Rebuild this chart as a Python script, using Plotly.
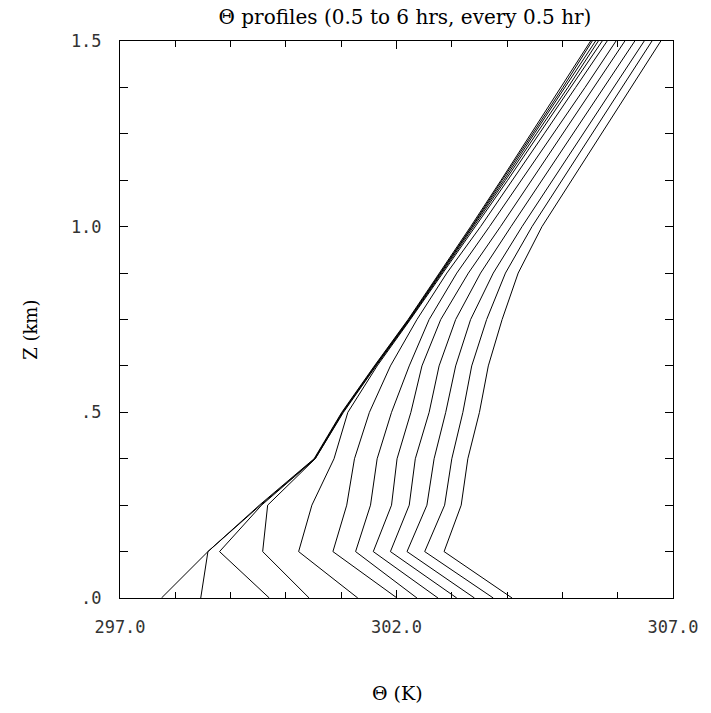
import plotly.graph_objects as go

# Heights (km)
z_km = [0.0, 0.125, 0.25, 0.375, 0.5, 0.625, 0.75, 0.875, 1.0, 1.125, 1.25, 1.375, 1.5]

# Theta profiles (K), every 0.5 hr from 0.5 to 6 hrs
theta_0p5h = [297.75, 298.59, 299.52, 300.51, 301.01, 301.60, 302.21, 302.78, 303.34, 303.89, 304.43, 304.97, 305.51]
theta_1p0h = [298.46, 298.59, 299.54, 300.52, 301.02, 301.61, 302.22, 302.79, 303.36, 303.91, 304.46, 305.01, 305.54]
theta_1p5h = [299.70, 298.80, 299.56, 300.53, 301.03, 301.62, 302.23, 302.80, 303.37, 303.94, 304.49, 305.04, 305.60]
theta_2p0h = [300.42, 299.58, 299.67, 300.53, 301.04, 301.63, 302.24, 302.82, 303.39, 303.97, 304.53, 305.10, 305.65]
theta_2p5h = [301.30, 300.23, 300.47, 300.87, 301.12, 301.65, 302.25, 302.84, 303.43, 304.01, 304.58, 305.15, 305.72]
theta_3p0h = [302.01, 300.85, 301.10, 301.24, 301.51, 301.89, 302.37, 302.91, 303.52, 304.10, 304.67, 305.24, 305.81]
theta_3p5h = [302.37, 301.26, 301.53, 301.65, 301.91, 302.23, 302.59, 303.09, 303.68, 304.26, 304.84, 305.41, 305.97]
theta_4p0h = [302.75, 301.58, 301.91, 302.01, 302.26, 302.46, 302.80, 303.30, 303.88, 304.44, 305.00, 305.56, 306.13]
theta_4p5h = [303.09, 301.89, 302.23, 302.34, 302.59, 302.77, 303.07, 303.52, 304.07, 304.63, 305.19, 305.75, 306.31]
theta_5p0h = [303.41, 302.19, 302.55, 302.68, 302.89, 303.07, 303.34, 303.75, 304.27, 304.82, 305.37, 305.93, 306.48]
theta_5p5h = [303.75, 302.51, 302.87, 303.00, 303.20, 303.36, 303.63, 303.97, 304.45, 304.99, 305.53, 306.07, 306.62]
theta_6p0h = [304.09, 302.86, 303.17, 303.29, 303.50, 303.66, 303.91, 304.20, 304.63, 305.17, 305.70, 306.24, 306.78]

hour_labels = ["0.5 hr", "1.0 hr", "1.5 hr", "2.0 hr", "2.5 hr", "3.0 hr",
               "3.5 hr", "4.0 hr", "4.5 hr", "5.0 hr", "5.5 hr", "6.0 hr"]
profiles = [theta_0p5h, theta_1p0h, theta_1p5h, theta_2p0h, theta_2p5h, theta_3p0h,
            theta_3p5h, theta_4p0h, theta_4p5h, theta_5p0h, theta_5p5h, theta_6p0h]

x_tickvals = [297.0, 302.0, 307.0]
x_ticktext = ["297.0", "302.0", "307.0"]
y_tickvals = [0.0, 0.5, 1.0, 1.5]
y_ticktext = [".0", ".5", "1.0", "1.5"]

fig = go.Figure()
for name, th in zip(hour_labels, profiles):
    fig.add_trace(go.Scatter(x=th, y=z_km, mode="lines", name=name,
                             line=dict(color="black", width=1), showlegend=False))

mono = dict(family="DejaVu Sans Mono", size=17, color="#333")
serif = "DejaVu Serif"

# plot box at x 120-678, y 41-598 of a 711x713 page (body margin removed below)
W, H = 711, 713
L, R, T, B = 120, 33, 41, 115
PW, PH = W - L - R, H - T - B

fig.update_layout(
    width=W, height=H,
    margin=dict(l=L, r=R, t=T, b=B),
    paper_bgcolor="white", plot_bgcolor="white",
    title=dict(text="Θ profiles (0.5 to 6 hrs, every 0.5 hr)",
               x=405 / W, xanchor="center", y=1 - 17 / H, yanchor="middle",
               font=dict(family=serif, size=20, color="black")),
    xaxis=dict(range=[297, 307], tickvals=x_tickvals, ticktext=x_ticktext,
               ticks="inside", ticklen=8, tickwidth=1, tickcolor="black",
               showline=True, linecolor="black", linewidth=1, mirror="allticks",
               showgrid=False, zeroline=False, tickfont=mono, ticklabelstandoff=14,
               minor=dict(tick0=297, dtick=1, ticks="inside", ticklen=6,
                          tickcolor="black", showgrid=False)),
    yaxis=dict(range=[0, 1.5], tickvals=y_tickvals, ticktext=y_ticktext,
               ticks="inside", ticklen=8, tickwidth=1, tickcolor="black",
               showline=True, linecolor="black", linewidth=1, mirror="allticks",
               showgrid=False, zeroline=False, tickfont=mono, ticklabelstandoff=14,
               minor=dict(tick0=0, dtick=0.125, ticks="inside", ticklen=8,
                          tickcolor="black", showgrid=False)),
    annotations=[
        dict(text="Θ (K)", xref="paper", yref="paper",
             x=(400 - L) / PW, y=(598 - 693) / PH, xanchor="center", yanchor="middle",
             showarrow=False, font=dict(family=serif, size=19, color="black")),
        dict(text="Z (km)", xref="paper", yref="paper", textangle=-90,
             x=(30 - L) / PW, y=(598 - 330) / PH, xanchor="center", yanchor="middle",
             showarrow=False, font=dict(family=serif, size=18, color="black")),
    ],
)

fig.write_html("out.html", config={"displayModeBar": False},
               post_script="document.body.style.margin='0';document.body.style.overflow='hidden';")
